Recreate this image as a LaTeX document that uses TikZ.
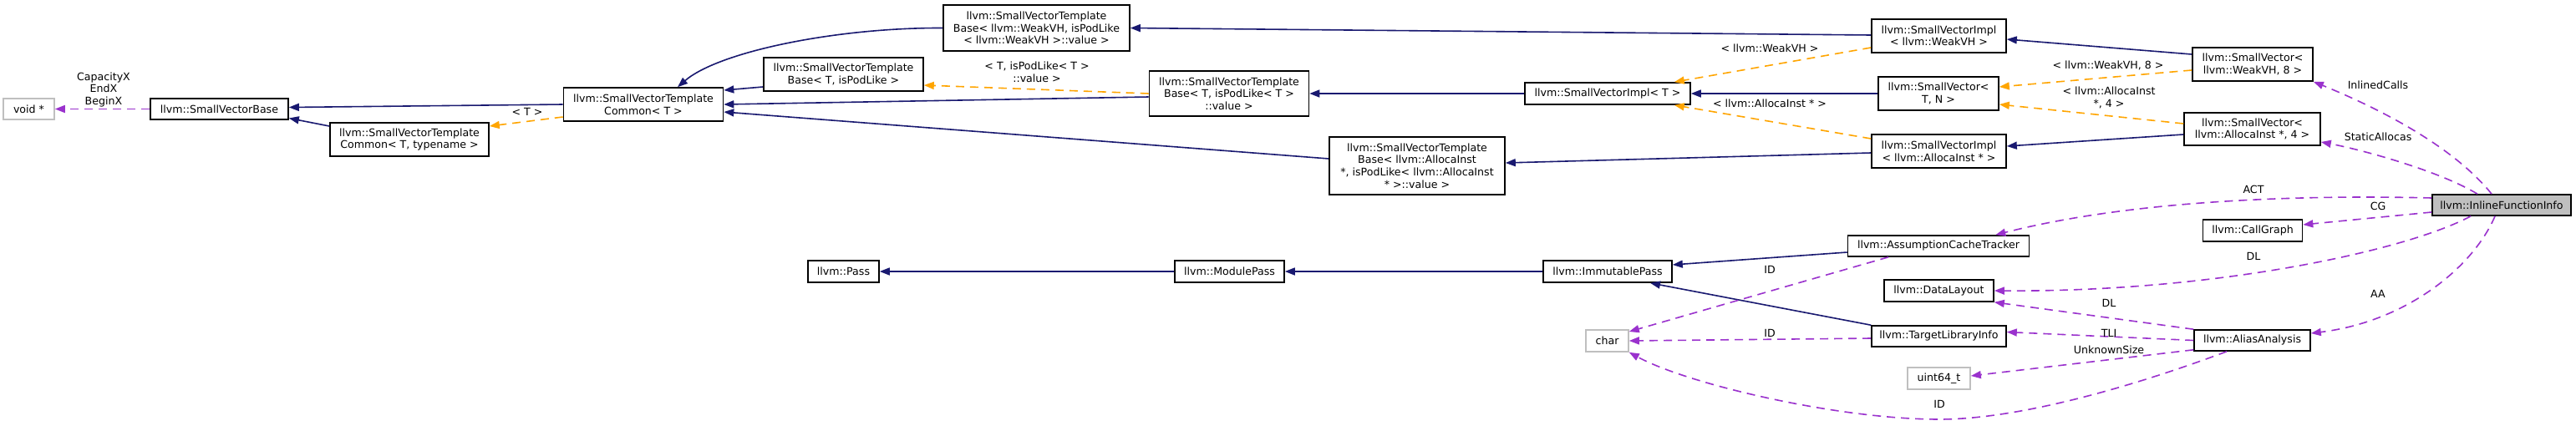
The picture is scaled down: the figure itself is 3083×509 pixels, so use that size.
\documentclass[tikz,border=0pt]{standalone}
\usepackage{fontspec}
\setmainfont{DejaVu Sans}
\usepackage{tikz}
\usetikzlibrary{arrows.meta}
\definecolor{inhblue}{HTML}{191970}
\definecolor{tplorange}{HTML}{FFA500}
\definecolor{usepurple}{HTML}{9A32CD}
\definecolor{extgray}{HTML}{BFBFBF}

\begin{document}
\begin{tikzpicture}[x=0.5pt, y=-0.5pt, >={Triangle[length=6pt,width=4.5pt]},
  font=\fontsize{6.3}{7.3}\selectfont,
  sz/.style 2 args={minimum width=#1*0.5pt, minimum height=#2*0.5pt},
  cls/.style={draw=black, line width=0.8pt, fill=white, align=center, inner sep=1pt},
  ext/.style={cls, draw=extgray},
  cur/.style={cls, fill=extgray},
  inh/.style={->, draw=inhblue, line width=0.8pt},
  tpl/.style={->, draw=tplorange, line width=0.8pt, dash pattern=on 5pt off 3.5pt},
  use/.style={->, draw=usepurple, line width=0.8pt, dash pattern=on 5pt off 3.5pt},
  lbl/.style={align=center, inner sep=0pt}]
  \useasboundingbox (0,0) rectangle (3083,509);
  \fill[white] (0,0) rectangle (3083,509);

  % Klassen
  \node[ext, sz={61}{25}] (voidp) at (34.5,130.5) {void *};
  \node[cls, sz={165}{25}] (svbase) at (262.5,130.5) {llvm::SmallVectorBase};
  \node[cls, sz={190}{40}] (svtcTN) at (490,167) {llvm::SmallVectorTemplate\\Common< T, typename >};
  \node[cls, sz={191}{40}] (svtcT) at (770,125) {llvm::SmallVectorTemplate\\Common< T >};
  \node[cls, sz={191}{40}] (svtbTP) at (1009.5,89) {llvm::SmallVectorTemplate\\Base< T, isPodLike >};
  \node[cls, sz={223}{55}] (svtbWVH) at (1240.5,33.5)
    {llvm::SmallVectorTemplate\\Base< llvm::WeakVH, isPodLike\\< llvm::WeakVH >::value >};
  \node[cls, sz={191}{54}] (svtbTPV) at (1471,112)
    {llvm::SmallVectorTemplate\\Base< T, isPodLike< T >\\::value >};
  \node[cls, sz={210}{69}] (svtbAI) at (1696,198.5)
    {llvm::SmallVectorTemplate\\Base< llvm::AllocaInst\\ *, isPodLike< llvm::AllocaInst\\* >::value >};
  \node[cls, sz={198}{26}] (svimplT) at (1924,112) {llvm::SmallVectorImpl< T >};
  \node[cls, sz={161}{40}] (svimplWVH) at (2320.5,43) {llvm::SmallVectorImpl\\< llvm::WeakVH >};
  \node[cls, sz={144}{40}] (svTN) at (2320,112) {llvm::SmallVector<\\T, N >};
  \node[cls, sz={161}{40}] (svimplAI) at (2320.5,181) {llvm::SmallVectorImpl\\< llvm::AllocaInst * >};
  \node[cls, sz={144}{40}] (svWVH8) at (2696,77) {llvm::SmallVector<\\llvm::WeakVH, 8 >};
  \node[cls, sz={163}{39}] (svAI4) at (2695.5,154.5) {llvm::SmallVector<\\llvm::AllocaInst *, 4 >};
  \node[cur, sz={166}{25}] (ifi) at (2994,245.5) {llvm::InlineFunctionInfo};
  \node[cls, sz={119}{26}] (cg) at (2696,276) {llvm::CallGraph};
  \node[cls, sz={217}{25}] (act) at (2320,294.5) {llvm::AssumptionCacheTracker};
  \node[cls, sz={139}{25}] (aa) at (2695.5,407.5) {llvm::AliasAnalysis};
  \node[cls, sz={131}{26}] (dl) at (2320.5,348) {llvm::DataLayout};
  \node[cls, sz={161}{25}] (tli) at (2320.5,402.5) {llvm::TargetLibraryInfo};
  \node[ext, sz={75}{26}] (u64) at (2320.5,453) {uint64\_t};
  \node[cls, sz={154}{26}] (immut) at (1924,325) {llvm::ImmutablePass};
  \node[cls, sz={131}{26}] (modp) at (1471.5,325) {llvm::ModulePass};
  \node[cls, sz={85}{26}] (pass) at (1009.5,325) {llvm::Pass};
  \node[ext, sz={51}{26}] (chr) at (1923.5,408) {char};

  % Vererbung
  \draw[inh] ([yshift=8pt]svtcTN.west) -- ([yshift=-5.5pt]svbase.east);
  \draw[inh] (svtcT.west) -- ([yshift=1pt]svbase.east);
  \draw[inh] ([yshift=-7.5pt]svtbTP.west) -- ([yshift=8.5pt]svtcT.east);
  \draw[inh] (svtbWVH.west) .. controls (1000,33) and (860,62) .. ([xshift=20.5pt]svtcT.north);
  \draw[inh] ([yshift=-2pt]svtbTPV.west) -- (svtcT.east);
  \draw[inh] ([yshift=4.25pt]svtbAI.west) -- ([yshift=-4.5pt]svtcT.east);
  \draw[inh] (svimplT.west) -- (svtbTPV.east);
  \draw[inh] ([yshift=0.5pt]svimplWVH.west) -- (svtbWVH.east);
  \draw[inh] ([yshift=-1pt]svimplAI.west) -- ([yshift=1.75pt]svtbAI.east);
  \draw[inh] (svTN.west) -- (svimplT.east);
  \draw[inh] ([yshift=6pt]svWVH8.west) -- ([yshift=-2pt]svimplWVH.east);
  \draw[inh] ([yshift=-3.25pt]svAI4.west) -- ([yshift=3pt]svimplAI.east);
  \draw[inh] (modp.west) -- (pass.east);
  \draw[inh] (immut.west) -- (modp.east);
  \draw[inh] ([yshift=-3.75pt]act.west) -- ([yshift=4pt]immut.east);
  \draw[inh] (tli.north west) -- ([xshift=25.5pt]immut.south);

  % Template-Instanzen
  \draw[tpl] ([yshift=-7.5pt]svtcT.west) -- ([yshift=8pt]svtcTN.east);
  \node[lbl] (lT) at (631,134) {< T >};
  \draw[tpl] (svtbTPV.west) -- ([yshift=-6.5pt]svtbTP.east);
  \node[lbl] (lTPV) at (1241,86.5) {< T, isPodLike< T >\\::value >};
  \draw[tpl] ([yshift=-7pt]svimplWVH.west) -- ([xshift=-10pt]svimplT.north east);
  \node[lbl] (lWVH) at (2118,58) {< llvm::WeakVH >};
  \draw[tpl] ([yshift=7.5pt]svimplAI.west) -- ([xshift=-10pt]svimplT.south east);
  \node[lbl] (lAI) at (2118,124) {< llvm::AllocaInst * >};
  \draw[tpl] ([yshift=-3.5pt]svWVH8.west) -- ([yshift=4pt]svTN.east);
  \node[lbl] (lWVH8) at (2523,78) {< llvm::WeakVH, 8 >};
  \draw[tpl] ([yshift=3.25pt]svAI4.west) -- ([yshift=-6.5pt]svTN.east);
  \node[lbl] (lAI4) at (2524,117) {< llvm::AllocaInst\\*, 4 >};

  % Attribute
  \draw[use] (svbase.west) -- (voidp.east);
  \node[lbl] (lVec) at (124,107.5) {CapacityX\\EndX\\BeginX};
  \draw[use] ([xshift=-30pt]act.south) -- ([yshift=5.5pt]chr.east);
  \node[lbl] (lID1) at (2118,323) {ID};
  \draw[use] ([yshift=-1.25pt]tli.west) -- (chr.east);
  \node[lbl] (lID2) at (2118,399) {ID};
  \draw[use] ([xshift=-15.25pt]aa.south) .. controls (2560,460) and (2420,502) .. (2321,502)
    .. controls (2200,502) and (2020,460) .. (chr.south east);
  \node[lbl] (lID3) at (2321,484) {ID};
  \draw[use] (aa.north west) -- (dl.south east);
  \node[lbl] (lDL1) at (2524,363) {DL};
  \draw[use] (aa.west) -- ([yshift=2.5pt]tli.east);
  \node[lbl] (lTLI) at (2524,399) {TLI};
  \draw[use] ([yshift=1pt]aa.south west) -- ([yshift=1.5pt]u64.east);
  \node[lbl] (lUS) at (2524,419) {UnknownSize};
  \draw[use] ([xshift=-18.5pt]ifi.south) .. controls (2880,300) and (2650,350) .. (dl.east);
  \node[lbl] (lDL2) at (2697,307) {DL};
  \draw[use] ([xshift=-4pt]ifi.south) .. controls (2960,320) and (2880,385) .. ([yshift=4.25pt]aa.east);
  \node[lbl] (lAA) at (2846,352) {AA};
  \draw[use] ([yshift=-4.25pt]ifi.west) -- ([yshift=3.5pt]cg.east);
  \node[lbl] (lCG) at (2846,247) {CG};
  \draw[use] ([yshift=4.25pt]ifi.west) .. controls (2750,233) and (2550,240) .. ([xshift=-20.5pt]act.north east);
  \node[lbl] (lACT) at (2697,227) {ACT};
  \draw[use] ([xshift=-14.5pt]ifi.north) .. controls (2920,205) and (2830,180) .. ([yshift=-7.75pt]svAI4.east);
  \node[lbl] (lSA) at (2846,164) {StaticAllocas};
  \draw[use] ([xshift=-6pt]ifi.north) .. controls (2940,180) and (2860,135) .. (svWVH8.south east);
  \node[lbl] (lIC) at (2846,102) {InlinedCalls};
\end{tikzpicture}
\end{document}
